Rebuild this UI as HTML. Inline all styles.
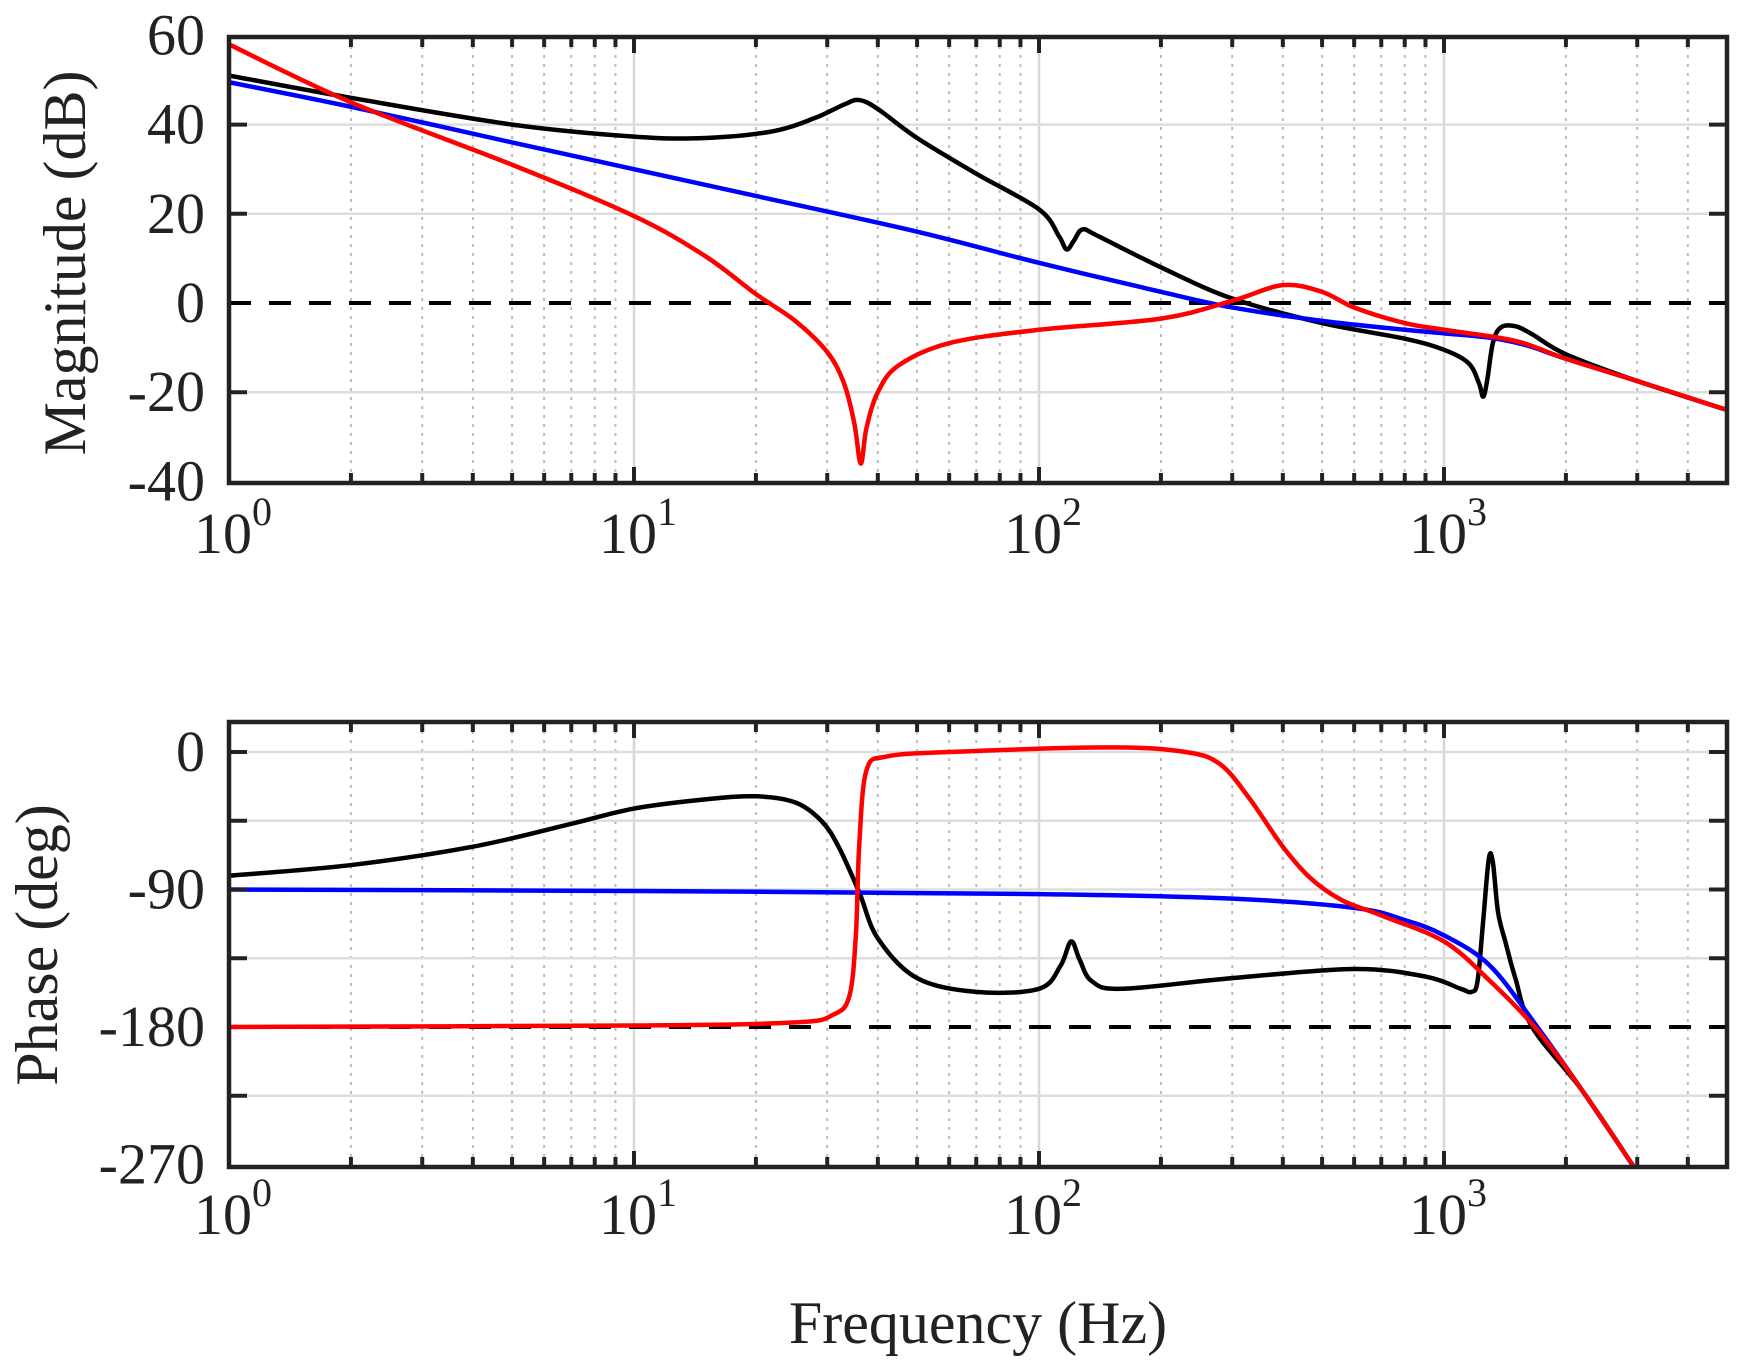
<!DOCTYPE html>
<html><head><meta charset="utf-8"><style>
html,body{margin:0;padding:0;background:#fff;}
svg{display:block;}
text{font-family:"Liberation Serif","Times New Roman",serif;fill:#222;}
</style></head><body>
<svg id="s" width="1746" height="1361" xmlns="http://www.w3.org/2000/svg"></svg>
<script>
const S=document.getElementById('s');
const L=229,R=1727,DEC=405;
const X=f=>L+DEC*Math.log10(f);
const P1={t:37,b:483,y:d=>303-4.46*d};
const P2={t:722,b:1167,y:p=>752+1.5278*(-p)};
let h='';
h+='<defs><clipPath id="c1"><rect x="'+L+'" y="'+P1.t+'" width="'+(R-L)+'" height="'+(P1.b-P1.t)+'"/></clipPath><clipPath id="c2"><rect x="'+L+'" y="'+P2.t+'" width="'+(R-L)+'" height="'+(P2.b-P2.t)+'"/></clipPath></defs>';
function grid(P,yt,zeroV){
  let g='';
  for(let d=0;d<4;d++)for(let m=1;m<10;m++){const f=m*Math.pow(10,d);const x=X(f);if(x>R-1)continue;
    if(m==1){g+=`<line x1="${x}" y1="${P.t}" x2="${x}" y2="${P.b}" stroke="#d8d8d8" stroke-width="2.5"/>`;}
    else g+=`<line x1="${x}" y1="${P.t}" x2="${x}" y2="${P.b}" stroke="#bbb" stroke-width="2" stroke-dasharray="3,6"/>`;}
  yt.forEach(v=>{const y=P.y(v);g+=`<line x1="${L}" y1="${y}" x2="${R}" y2="${y}" stroke="#ddd" stroke-width="2.5"/>`;});
  const yz=P.y(zeroV);
  g+=`<line x1="${L}" y1="${yz}" x2="${R}" y2="${yz}" stroke="#000" stroke-width="4" stroke-dasharray="22,18"/>`;
  return g;
}
function frame(P,yt){
  let g=`<rect x="${L}" y="${P.t}" width="${R-L}" height="${P.b-P.t}" fill="none" stroke="#222" stroke-width="4.5"/>`;
  for(let d=0;d<4;d++)for(let m=1;m<10;m++){const f=m*Math.pow(10,d);const x=X(f);if(x>R-1||x<L+1)continue;const len=m==1?16:10;
    g+=`<line x1="${x}" y1="${P.t}" x2="${x}" y2="${P.t+len}" stroke="#222" stroke-width="4"/><line x1="${x}" y1="${P.b}" x2="${x}" y2="${P.b-len}" stroke="#222" stroke-width="4"/>`;}
  yt.forEach(v=>{const y=P.y(v);g+=`<line x1="${L}" y1="${y}" x2="${L+18}" y2="${y}" stroke="#222" stroke-width="4"/><line x1="${R}" y1="${y}" x2="${R-18}" y2="${y}" stroke="#222" stroke-width="4"/>`;});
  return g;
}
function curve(pts,P,col,w){
  const p=pts.map(a=>[X(a[0]),P.y(a[1])]);
  let d='M'+p[0][0]+','+p[0][1];
  for(let i=0;i<p.length-1;i++){
    const p0=p[i-1]||p[i],p1=p[i],p2=p[i+1],p3=p[i+2]||p2;
    const c1=[p1[0]+(p2[0]-p0[0])/6,p1[1]+(p2[1]-p0[1])/6];
    const c2=[p2[0]-(p3[0]-p1[0])/6,p2[1]-(p3[1]-p1[1])/6];
    d+=`C${c1[0]},${c1[1]} ${c2[0]},${c2[1]} ${p2[0]},${p2[1]}`;
  }
  return `<path d="${d}" fill="none" stroke="${col}" stroke-width="${w}" stroke-linejoin="round"/>`;
}
const magT=[40,20,-20];
const phT=[0,-45,-90,-135,-225];
h+=grid(P1,magT,0);
h+=grid(P2,phT,-180);
const mBlue=[[1,49.5],[2,44],[5,36],[10,30],[20,24],[50,16],[100,9],[200,2.5],[300,-1],[500,-4],[800,-6],[1000,-6.8],[1300,-7.8],[1600,-9.5],[2000,-12.5],[3000,-17.5],[5000,-24]];
const mBlack=[[1,51],[2,46],[5,40],[10,37.3],[15,37],[22,38.5],[28,41.5],[33,44.5],[36,45.5],[40,43.5],[50,37],[70,29],[100,21],[112,15],[117,12],[122,14],[128,16.5],[140,15],[200,8],[300,1],[500,-4.5],[800,-8],[1000,-10.5],[1150,-13.5],[1220,-18],[1250,-21],[1280,-17],[1320,-9],[1380,-5.5],[1500,-5.2],[1650,-7],[2000,-11.5],[3000,-17.5],[5000,-24]];
const mRed=[[1,58],[2,45],[5,31],[10,19.5],[15,10.5],[20,2],[25,-4],[30,-11],[33,-18],[35,-27],[36.3,-36],[37.5,-28],[40,-20],[45,-14],[60,-9],[100,-6],[200,-3.5],[300,0.5],[400,4],[500,2.5],[600,-1],[800,-4.5],[1000,-6],[1500,-8.5],[2000,-12.5],[3000,-17.5],[5000,-24]];
h+='<g clip-path="url(#c1)">'+curve(mBlack,P1,'#000',4.5)+curve(mBlue,P1,'#0000ff',4.5)+curve(mRed,P1,'#ff0000',4.5)+'</g>';
const pBlue=[[1,-90],[10,-91],[100,-93],[300,-96],[600,-102],[800,-110],[1000,-120],[1300,-140],[1700,-180],[2200,-222],[2950,-272]];
const pRed=[[1,-180],[10,-179],[25,-177],[31,-172],[34,-160],[35.3,-120],[36,-60],[37.5,-12],[42,-3],[60,0],[150,3],[230,0],[280,-8],[330,-30],[400,-62],[470,-83],[560,-97],[700,-107],[1000,-124],[1300,-150],[1700,-182],[2200,-222],[2950,-272]];
const pBlack=[[1,-81],[2,-74],[4,-62],[7,-47],[10,-37],[15,-31],[20,-29],[25,-33],[29,-45],[32,-62],[36,-92],[40,-122],[50,-148],[70,-157],[100,-155],[113,-140],[120,-124],[126,-136],[135,-150],[160,-155],[300,-148],[600,-142],[900,-147],[1100,-155],[1170,-157],[1210,-150],[1250,-110],[1290,-70],[1320,-72],[1360,-105],[1420,-125],[1500,-148],[1650,-180],[2200,-222],[2950,-272]];
h+='<g clip-path="url(#c2)">'+curve(pBlack,P2,'#000',4.5)+curve(pBlue,P2,'#0000ff',4.5)+curve(pRed,P2,'#ff0000',4.5)+'</g>';
h+=frame(P1,magT);h+=frame(P2,phT);
const fs=58;
[60,40,20,0,-20,-40].forEach(v=>{h+=`<text x="${L-24}" y="${P1.y(v)+19}" font-size="${fs}" text-anchor="end">${v}</text>`;});
[0,-90,-180,-270].forEach(v=>{h+=`<text x="${L-24}" y="${P2.y(v)+19}" font-size="${fs}" text-anchor="end">${v}</text>`;});
function xl(y){let g='';for(let d=0;d<4;d++){const x=X(Math.pow(10,d));g+=`<text x="${x+4}" y="${y}" font-size="${fs}" text-anchor="middle">10<tspan dy="-28" font-size="40">${d}</tspan></text>`;}return g;}
h+=xl(553);h+=xl(1234);
h+=`<text transform="translate(85,263) rotate(-90)" font-size="60" text-anchor="middle">Magnitude (dB)</text>`;
h+=`<text transform="translate(57,945) rotate(-90)" font-size="60" text-anchor="middle">Phase (deg)</text>`;
h+=`<text x="978" y="1343" font-size="60" text-anchor="middle">Frequency (Hz)</text>`;
S.innerHTML=h;
</script>
</body></html>
